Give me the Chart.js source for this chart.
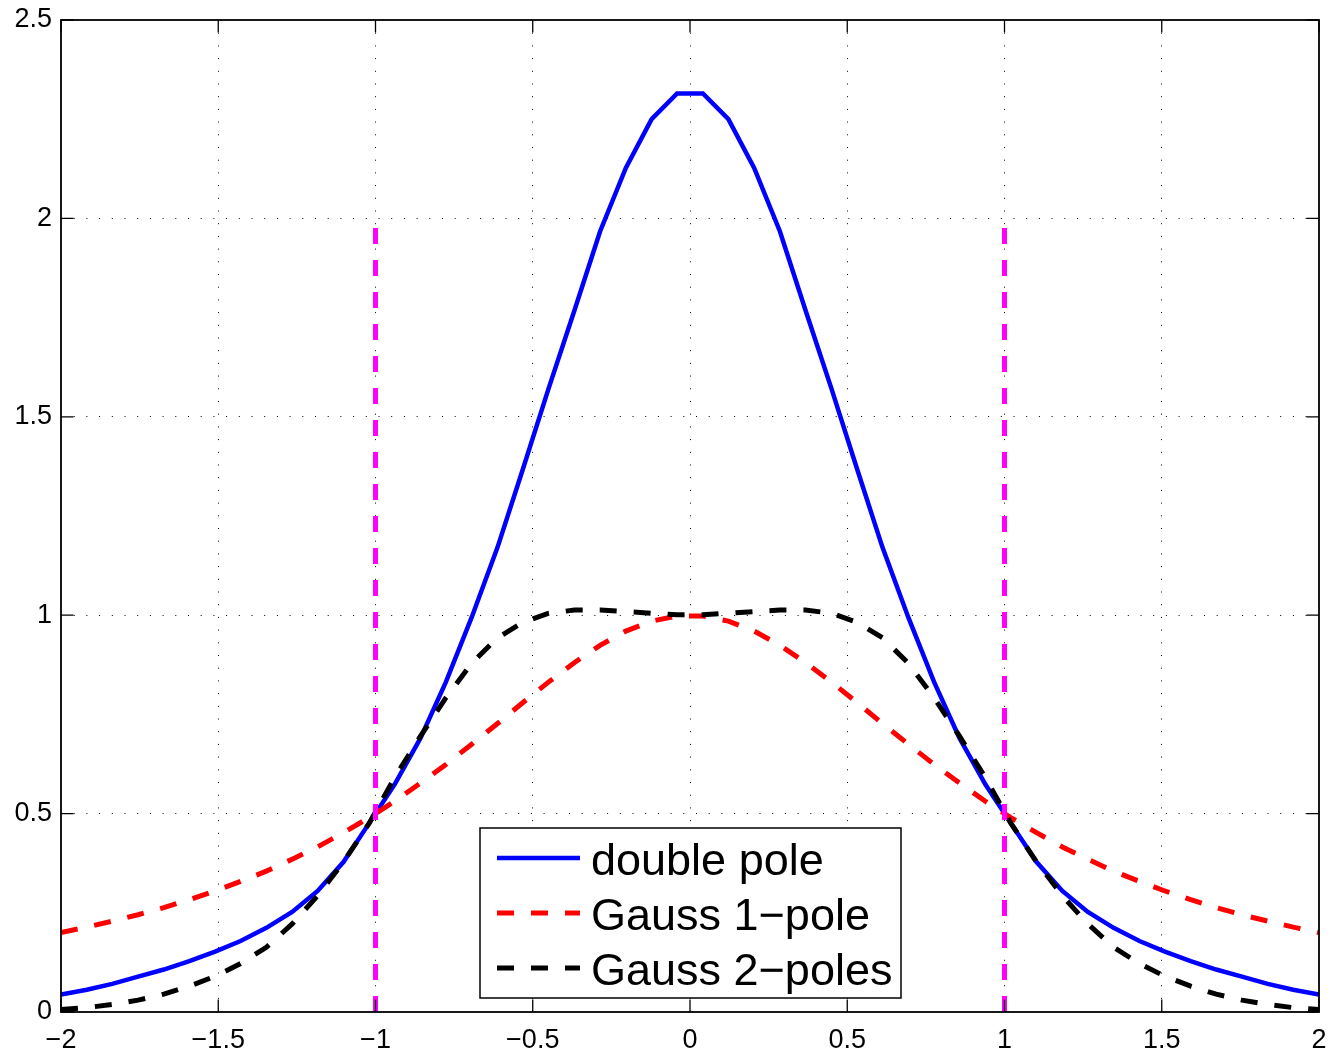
<!DOCTYPE html>
<html>
<head>
<meta charset="utf-8">
<script src="https://cdn.jsdelivr.net/npm/chart.js@4.4.0/dist/chart.umd.min.js"></script>
<style>
html,body{margin:0;padding:0;background:#fff;}
canvas{display:block;}
</style>
</head>
<body>
<canvas id="Chart" width="1331" height="1055"></canvas>
<script>
// sample positions (50 points from -2 to 2)
let xValues = [-2.000,-1.918,-1.837,-1.755,-1.673,-1.592,-1.510,-1.429,-1.347,-1.265,
  -1.184,-1.102,-1.020,-0.939,-0.857,-0.776,-0.694,-0.612,-0.531,-0.449,
  -0.367,-0.286,-0.204,-0.122,-0.041,0.041,0.122,0.204,0.286,0.367,
  0.449,0.531,0.612,0.694,0.776,0.857,0.939,1.020,1.102,1.184,
  1.265,1.347,1.429,1.510,1.592,1.673,1.755,1.837,1.918,2.000]

let doublePole = [0.044,0.056,0.071,0.089,0.107,0.128,0.152,0.179,0.212,0.252,
  0.305,0.378,0.476,0.574,0.690,0.832,0.995,1.171,1.369,1.573,
  1.769,1.967,2.127,2.250,2.315,2.315,2.250,2.127,1.967,1.769,
  1.573,1.369,1.171,0.995,0.832,0.690,0.574,0.476,0.378,0.305,
  0.252,0.212,0.179,0.152,0.128,0.107,0.089,0.071,0.056,0.044]

let gauss1Pole = [0.200,0.214,0.229,0.245,0.263,0.283,0.305,0.329,0.355,0.385,
  0.416,0.452,0.490,0.531,0.577,0.624,0.675,0.727,0.780,0.832,
  0.881,0.924,0.960,0.985,0.998,0.998,0.985,0.960,0.924,0.881,
  0.832,0.780,0.727,0.675,0.624,0.577,0.531,0.490,0.452,0.416,
  0.385,0.355,0.329,0.305,0.283,0.263,0.245,0.229,0.214,0.200]

let gauss2Poles = [0.006,0.011,0.019,0.030,0.045,0.065,0.090,0.122,0.163,0.222,
  0.293,0.378,0.476,0.591,0.695,0.792,0.879,0.943,0.982,1.005,
  1.013,1.013,1.009,1.005,1.001,1.001,1.005,1.009,1.013,1.013,
  1.005,0.982,0.943,0.879,0.792,0.695,0.591,0.476,0.378,0.293,
  0.222,0.163,0.122,0.090,0.065,0.045,0.030,0.019,0.011,0.006]

let cutoffX = [-1, 1]
let cutoffY = [0, 2]

let xTicks = [-2,-1.5,-1,-0.5,0,0.5,1,1.5,2]
let yTicks = [0,0.5,1,1.5,2,2.5]
let seriesNames = ['double pole','Gauss 1\u2212pole','Gauss 2\u2212poles']

function toPoints(ys){
  return xValues.map((x,i) => ({x: x, y: ys[i]}))
}
function fmt(v){
  return v < 0 ? '\u2212' + String(-v) : String(v)
}
function edgeClear(ticks){
  return ctx => {
    let v = ctx.tick ? ctx.tick.value : null
    return (v === ticks[0] || v === ticks[ticks.length-1]) ? 'rgba(0,0,0,0)' : '#000'
  }
}
function noPad(s){
  s.paddingLeft = 0; s.paddingRight = 0; s.paddingTop = 0; s.paddingBottom = 0
}

const FONT = '"Liberation Sans", Arial, Helvetica, sans-serif'

// box around the axes with inward ticks, like matlab
const frame = {
  id: 'frame',
  afterDatasetsDraw(chart){
    const {ctx, chartArea: a, scales} = chart
    const tl = 12.6
    ctx.save()
    ctx.strokeStyle = '#000'
    ctx.lineWidth = 1.3
    ctx.beginPath()
    xTicks.forEach(v => {
      let p = scales.x.getPixelForValue(v)
      ctx.moveTo(p, a.bottom); ctx.lineTo(p, a.bottom - tl)
      ctx.moveTo(p, a.top); ctx.lineTo(p, a.top + tl)
    })
    yTicks.forEach(v => {
      let p = scales.y.getPixelForValue(v)
      ctx.moveTo(a.left, p); ctx.lineTo(a.left + tl, p)
      ctx.moveTo(a.right, p); ctx.lineTo(a.right - tl, p)
    })
    ctx.stroke()
    ctx.lineWidth = 1.8
    ctx.strokeRect(a.left, a.top, a.right - a.left, a.bottom - a.top)
    ctx.restore()
  }
}

// legend box inside the plot
const boxLegend = {
  id: 'boxLegend',
  afterDraw(chart){
    const {ctx, chartArea: a} = chart
    const left = a.left + 419, top = a.top + 808, w = 421, h = 170
    ctx.save()
    ctx.fillStyle = '#fff'
    ctx.fillRect(left, top, w, h)
    ctx.strokeStyle = '#000'
    ctx.lineWidth = 1.5
    ctx.strokeRect(left, top, w, h)
    ctx.font = '45px ' + FONT
    ctx.textBaseline = 'alphabetic'
    ctx.textAlign = 'left'
    chart.data.datasets.slice(0,3).forEach((ds,i) => {
      let y = top + 30 + i*55
      ctx.beginPath()
      ctx.strokeStyle = ds.borderColor
      ctx.lineWidth = ds.borderWidth
      ctx.setLineDash(ds.borderDash || [])
      ctx.moveTo(left + 17, y)
      ctx.lineTo(left + 100, y)
      ctx.stroke()
      ctx.setLineDash([])
      ctx.fillStyle = '#000'
      ctx.fillText(ds.label, left + 111, y + 17)
    })
    ctx.restore()
  }
}

new Chart("Chart",{
  type: "line",
  data: {
    datasets: [
      {label: seriesNames[0], data: toPoints(doublePole), borderColor: "#0000ff",
        borderWidth: 4.5, order: 4},
      {label: seriesNames[1], data: toPoints(gauss1Pole), borderColor: "#ff0000",
        borderWidth: 5, borderDash: [17,17], order: 3},
      {label: seriesNames[2], data: toPoints(gauss2Poles), borderColor: "#000000",
        borderWidth: 5, borderDash: [17,17], order: 2},
      {label: 'cut1', data: [{x: cutoffX[0], y: cutoffY[0]},{x: cutoffX[0], y: cutoffY[1]}],
        borderColor: "#ff00ff", borderWidth: 5, borderDash: [16,16], order: 1},
      {label: 'cut2', data: [{x: cutoffX[1], y: cutoffY[0]},{x: cutoffX[1], y: cutoffY[1]}],
        borderColor: "#ff00ff", borderWidth: 5, borderDash: [16,16], order: 1}
    ]
  },
  options: {
    responsive: false,
    animation: false,
    elements: {
      point: {radius: 0},
      line: {tension: 0, fill: false, borderCapStyle: 'butt'}
    },
    layout: {padding: {left: 0, right: 12, top: 20, bottom: 0}},
    plugins: {
      legend: {display: false},
      tooltip: {enabled: false}
    },
    scales: {
      x: {
        type: 'linear', min: -2, max: 2,
        afterBuildTicks: s => { s.ticks = xTicks.map(v => ({value: v})) },
        afterFit: s => { s.height = 43; noPad(s) },
        ticks: {callback: v => fmt(v), color: '#000', padding: 12,
          font: {family: FONT, size: 27}, maxRotation: 0, autoSkip: false},
        grid: {drawTicks: false, color: edgeClear(xTicks), lineWidth: 1},
        border: {display: false, dash: [1, 11.7]}
      },
      y: {
        type: 'linear', min: 0, max: 2.5,
        afterBuildTicks: s => { s.ticks = yTicks.map(v => ({value: v})) },
        afterFit: s => { s.width = 61; noPad(s) },
        ticks: {callback: v => fmt(v), color: '#000', padding: 9,
          font: {family: FONT, size: 27}, autoSkip: false},
        grid: {drawTicks: false, color: edgeClear(yTicks), lineWidth: 1},
        border: {display: false, dash: [1, 11.7]}
      }
    }
  },
  plugins: [frame, boxLegend]
})
</script>
</body>
</html>
